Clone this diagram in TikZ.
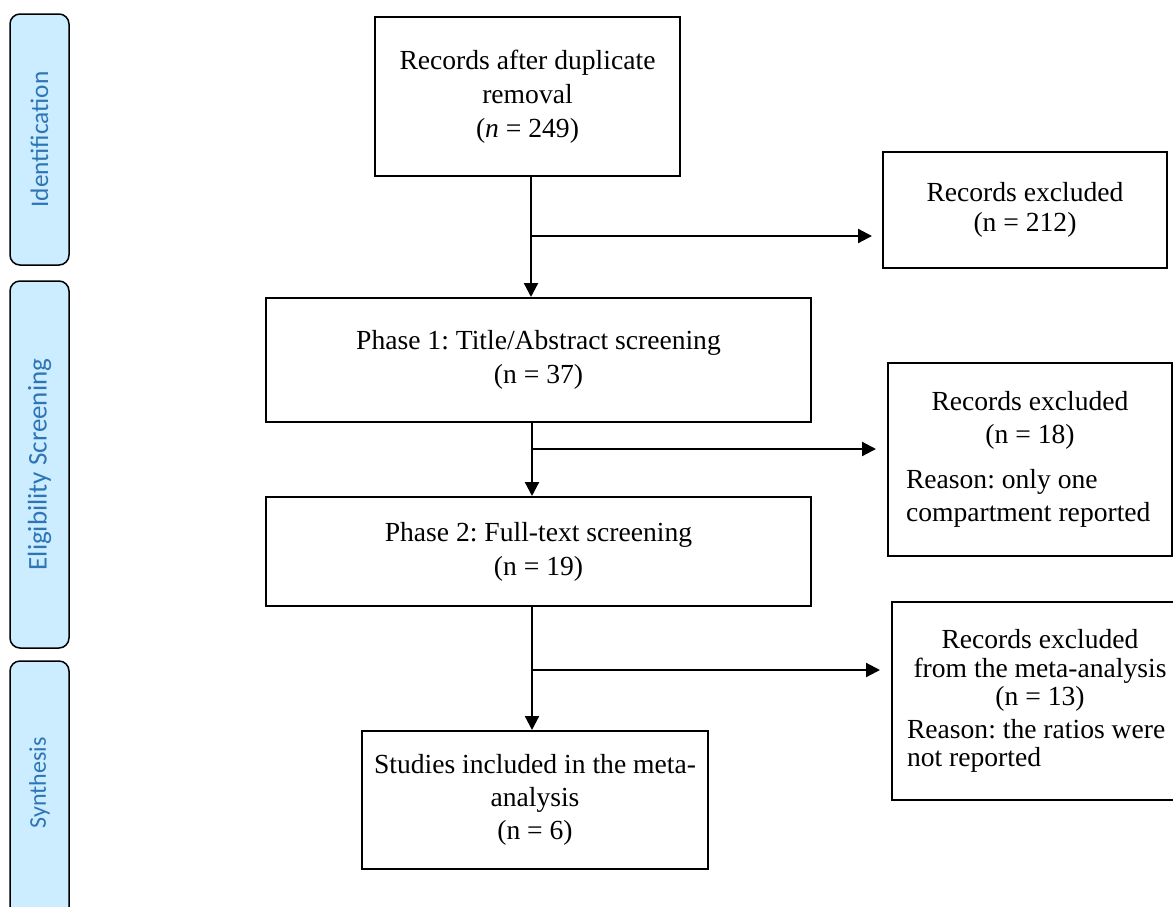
\documentclass[tikz,border=0pt]{standalone}
\usepackage{fontspec}
\setmainfont{Liberation Serif}
\newfontfamily\barfont{Carlito}
\usetikzlibrary{arrows.meta}
\definecolor{barfill}{RGB}{204,236,255}
\definecolor{bartext}{RGB}{46,117,182}
\frenchspacing
\begin{document}
\begin{tikzpicture}[x=1pt,y=-1pt,
  box/.style={draw=black, line width=2pt, inner sep=0pt, align=center,
    font=\fontsize{27.6}{34}\selectfont},
  phasebar/.style={draw=black, line width=1.5pt, fill=barfill, rounded corners=10pt,
    inner sep=0pt, minimum height=59pt, rotate=90},
  phasetext/.style={text=bartext},
  arr/.style={line width=2.2pt, -{Triangle[length=14pt,width=14pt]}}]
\useasboundingbox (0,0) rectangle (1173,906);

% phase bars
\node[phasebar, phasetext, minimum width=251pt, font=\barfont\fontsize{25.3}{28}\selectfont] (ident) at (39.5,139.5) {Identification};
\node[phasebar, phasetext, minimum width=367pt, font=\barfont\fontsize{27}{30}\selectfont] (elig) at (39.5,464.5) {Eligibility Screening};
\node[phasebar, minimum width=259pt] (synbar) at (39.5,790.5) {};
\node[phasetext, rotate=90, inner sep=0pt, font=\barfont\fontsize{24}{28}\selectfont] (syn) at (39.5,783) {Synthesis};

% main boxes
\node[box, minimum width=305pt, minimum height=159pt] (b1) at (527.5,96.5)
  {Records after duplicate\\removal\\(\textit{n} = 249)};
\node[box, minimum width=545pt, minimum height=124pt] (b2) at (538.5,360)
  {Phase 1: Title/Abstract screening\\(n = 37)};
\node[box, minimum width=545pt, minimum height=109pt] (b3) at (538.5,551.5)
  {Phase 2: Full-text screening\\(n = 19)};
\node[box, minimum width=346pt, minimum height=138pt, font=\fontsize{27.6}{33}\selectfont] (b4) at (535,800)
  {Studies included in the meta-\\analysis\\(n = 6)};

% exclusion boxes
\node[box, minimum width=284pt, minimum height=116pt, font=\fontsize{27.6}{30}\selectfont] (e1) at (1025,210)
  {Records excluded\\(n = 212)};
\node[box, minimum width=284pt, minimum height=193pt,
  font=\fontsize{27.6}{33}\selectfont] (e2) at (1030,459.5)
  {\parbox{248pt}{\centering Records excluded\\(n = 18)\par\vspace{12pt}\raggedright Reason: only one\\compartment reported}};
\node[box, minimum width=296pt, minimum height=198pt,
  font=\fontsize{27.6}{28.5}\selectfont] (e3) at (1040,701)
  {\parbox{266pt}{\centering Records excluded\\from the meta-analysis\\(n = 13)\par\vspace{4pt}\raggedright Reason: the ratios were\\not reported}};

% junctions
\coordinate (j1) at (531,236);
\coordinate (j2) at (532,449);
\coordinate (j3) at (532,670);

% connectors
\draw[arr] (b1.south -| j1) -- (b2.north -| j1);
\draw[arr, shorten >=10pt] (j1) -- (e1.west |- j1);
\draw[arr] (b2.south -| j2) -- (b3.north -| j2);
\draw[arr, shorten >=11pt] (j2) -- (e2.west |- j2);
\draw[arr] (b3.south -| j3) -- (b4.north -| j3);
\draw[arr, shorten >=11pt] (j3) -- (e3.west |- j3);
\end{tikzpicture}
\end{document}
